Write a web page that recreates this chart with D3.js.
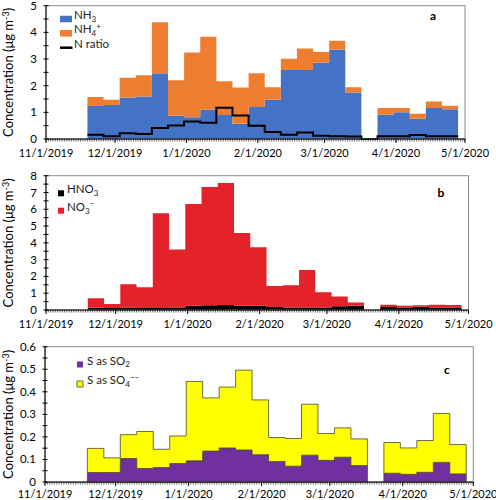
<!DOCTYPE html>
<html><head><meta charset="utf-8">
<script src="https://cdn.jsdelivr.net/npm/d3@7"></script>
<style>body{margin:0;background:#fff}svg{display:block}text{font-family:Lato,"Open Sans",sans-serif}</style>
</head><body><svg id="c" width="496" height="500"></svg>
<script>
// ---- data ----
const weeks = ["2019-11-19","2019-11-26","2019-12-03","2019-12-10","2019-12-17","2019-12-24","2019-12-31",
  "2020-01-07","2020-01-14","2020-01-21","2020-01-28","2020-02-04","2020-02-11","2020-02-18","2020-02-25",
  "2020-03-03","2020-03-10","2020-03-17","2020-03-24","2020-03-31","2020-04-07","2020-04-14","2020-04-21"];
const nh3  = [1.24,1.28,1.56,1.59,2.47,0.87,0.82,1.10,0.90,0.57,1.20,1.47,2.59,2.59,2.86,3.36,1.74,null,0.91,1.00,0.76,1.16,1.12];
const nh4  = [0.34,0.19,0.74,0.80,1.91,1.33,2.42,2.74,1.27,1.36,1.27,0.47,0.42,0.80,0.40,0.33,0.20,null,0.25,0.16,0.19,0.25,0.13];
const nRatio = [0.16,0.10,0.22,0.19,0.41,0.51,0.66,0.61,1.17,0.88,0.50,0.26,0.16,0.24,0.12,0.10,0.09,0,0.10,0.10,0.15,0.10,0.10];
const hno3 = [0.14,0.12,0.15,0.12,0.12,0.15,0.25,0.28,0.30,0.25,0.25,0.18,0.15,0.15,0.15,0.22,0.25,null,0.18,0.15,0.20,0.15,0.15];
const no3  = [0.56,0.24,1.38,1.23,5.65,3.45,6.06,7.04,7.26,4.33,3.49,1.25,1.32,2.24,0.90,0.58,0.19,null,0.14,0.11,0.08,0.17,0.15];
const so2  = [0.042,0.042,0.104,0.060,0.064,0.082,0.094,0.137,0.151,0.142,0.121,0.091,0.070,0.119,0.096,0.110,0.073,null,0.039,0.034,0.043,0.087,0.036];
const so4  = [0.107,0.065,0.106,0.164,0.081,0.122,0.352,0.236,0.270,0.354,0.243,0.106,0.123,0.226,0.119,0.130,0.118,null,0.136,0.117,0.141,0.217,0.130];
const dateDomain = ["2019-11-01","2020-05-01"];
const yTicksA = [0,1,2,3,4,5];
const yTicksB = [0,1,2,3,4,5,6,7,8];
const yTicksC = [0,0.1,0.2,0.3,0.4,0.5,0.6];

// ---- helpers ----
const parse = d3.utcParse("%Y-%m-%d");
const starts = weeks.map(parse);
const svg = d3.select("#c");
svg.append("rect").attr("width",496).attr("height",500).attr("fill","#fff");

function rich(sel, parts, fs, supShift){
  let pending = 0;
  const ss = supShift || 0.38;
  parts.forEach(p=>{
    let txt, size, shift = 0;
    if(typeof p === "string"){ txt = p; size = fs; }
    else if(p.sub){ txt = p.sub; size = fs*0.7; shift = fs*0.25; }
    else { txt = p.sup; size = fs*0.7; shift = -fs*ss; }
    sel.append("tspan").attr("font-size",size).attr("dy",pending+shift).text(txt);
    pending = -shift;
  });
}

function panel(cfg){
  const x = d3.scaleUtc().domain(dateDomain.map(parse)).range([cfg.x0,cfg.x1]);
  const y = d3.scaleLinear().domain([0,cfg.ymax]).range([cfg.yb,cfg.yt]);
  const g = svg.append("g");
  // stacks
  let base = weeks.map(()=>0);
  cfg.series.forEach(s=>{
    const pts = [];
    s.values.forEach((v,i)=>{
      const ok = v!==null;
      const b = base[i];
      const e = d3.utcDay.offset(starts[i],7);
      pts.push({ok, x:x(starts[i]), y0:b, y1:b+(v||0)});
      pts.push({ok, x:x(e), y0:b, y1:b+(v||0)});
      if(ok) base[i] = b+v;
    });
    const area = d3.area().defined(p=>p.ok).x(p=>p.x).y0(p=>y(p.y0)).y1(p=>y(p.y1));
    g.append("path").attr("d",area(pts)).attr("fill",s.color)
      .attr("stroke",cfg.outline||"none").attr("stroke-width",cfg.outline?0.8:0);
  });
  if(cfg.line){
    const pts=[];
    cfg.line.forEach((v,i)=>{ pts.push([x(starts[i]),y(v)]); pts.push([x(d3.utcDay.offset(starts[i],7)),y(v)]); });
    g.append("path").attr("d",d3.line()(pts)).attr("fill","none").attr("stroke","#000").attr("stroke-width",2);
  }
  // frame
  g.append("rect").attr("x",cfg.x0).attr("y",cfg.yt).attr("width",cfg.x1-cfg.x0).attr("height",cfg.yb-cfg.yt)
    .attr("fill","none").attr("stroke","#8c8c8c").attr("stroke-width",1);
  // y axis
  g.append("line").attr("x1",cfg.x0).attr("x2",cfg.x0).attr("y1",cfg.yt).attr("y2",cfg.yb).attr("stroke","#000");
  const step = cfg.yTicks[1]-cfg.yTicks[0];
  const minor = [];
  for(let k=0;k<cfg.yTicks.length*2-1;k++) minor.push(k*step/2);
  minor.forEach(v=>g.append("line").attr("x1",cfg.x0-2.5).attr("x2",cfg.x0+2.5).attr("y1",y(v)).attr("y2",y(v)).attr("stroke","#000"));
  cfg.yTicks.forEach(v=>g.append("text").attr("x",cfg.x0-9).attr("y",y(v)).attr("dy","0.35em")
    .attr("text-anchor","end").attr("font-size",11.5).attr("fill","#000").text(cfg.fmt(v)));
  // x axis
  g.append("line").attr("x1",cfg.x0).attr("x2",cfg.x1).attr("y1",cfg.yb).attr("y2",cfg.yb).attr("stroke","#000");
  const days = d3.utcDay.range(x.domain()[0], d3.utcDay.offset(x.domain()[1],1));
  days.forEach(d=>g.append("line").attr("x1",x(d)).attr("x2",x(d)).attr("y1",cfg.yb).attr("y2",cfg.yb+2.5)
    .attr("stroke","#000").attr("stroke-width",0.6));
  const months = d3.utcMonth.range(x.domain()[0], d3.utcDay.offset(x.domain()[1],1));
  const mf = d3.utcFormat("%-m/%-d/%Y");
  months.forEach(d=>{
    g.append("line").attr("x1",x(d)).attr("x2",x(d)).attr("y1",cfg.yb).attr("y2",cfg.yb+4).attr("stroke","#000");
    g.append("text").attr("x",x(d)).attr("y",cfg.yb+cfg.lab).attr("dy","0.35em").attr("text-anchor","middle")
      .attr("font-size",11).attr("fill","#000").text(mf(d));
  });
  // y title
  const t = g.append("text").attr("transform",`translate(13,${(cfg.yt+cfg.yb)/2}) rotate(-90)`)
    .attr("text-anchor","middle").attr("dy","0.35em").attr("fill","#000");
  rich(t,["Concentration (\u03bcg m",{sup:"-3"},")"],13,0.3);
  // panel letter
  g.append("text").attr("x",cfg.letter[0]).attr("y",cfg.letter[1]).attr("dy","0.35em").attr("text-anchor","middle")
    .attr("font-size",12).attr("font-weight","bold").text(cfg.letter[2]);
  // legend
  cfg.legend.forEach(L=>{
    if(L.type==="rect") g.append("rect").attr("x",L.x).attr("y",L.y-L.h/2).attr("width",L.w).attr("height",L.h)
      .attr("fill",L.color).attr("stroke",L.stroke||"none").attr("stroke-width",0.8);
    else g.append("line").attr("x1",L.x).attr("x2",L.x+L.w).attr("y1",L.y).attr("y2",L.y).attr("stroke","#000").attr("stroke-width",2.5);
    const tt = g.append("text").attr("x",L.tx).attr("y",L.y).attr("dy","0.35em").attr("fill","#222");
    rich(tt,L.text,11.5);
  });
}

panel({x0:46,x1:465,yt:5.7,yb:139,ymax:5,yTicks:yTicksA,fmt:d=>String(d),lab:14,
  series:[{values:nh3,color:"#4472C4"},{values:nh4,color:"#ED7D31"}],line:nRatio,
  letter:[433,16,"a"],
  legend:[{type:"rect",x:60,y:19,w:12,h:6.5,color:"#4472C4",tx:74,text:["NH",{sub:"3"}]},
          {type:"rect",x:60,y:33.3,w:12,h:6.5,color:"#ED7D31",tx:74,text:["NH",{sub:"4"},{sup:"+"}]},
          {type:"line",x:60,y:47.7,w:12.5,tx:74,text:["N ratio"]}]});

panel({x0:46,x1:468.5,yt:175.7,yb:310,ymax:8,yTicks:yTicksB,fmt:d=>String(d),lab:14,
  series:[{values:hno3,color:"#000"},{values:no3,color:"#E3222A"}],
  letter:[441,193,"b"],
  legend:[{type:"rect",x:58,y:193.3,w:6,h:6,color:"#000",tx:67,text:["HNO",{sub:"3"}]},
          {type:"rect",x:58,y:210.7,w:6,h:6,color:"#E3222A",tx:67,text:["NO",{sub:"3"},{sup:"\u2212"}]}]});

panel({x0:45,x1:473.3,yt:346.7,yb:482,ymax:0.6,yTicks:yTicksC,fmt:d=>d===0?"0":d.toFixed(1),lab:12.5,
  series:[{values:so2,color:"#7030A0"},{values:so4,color:"#FFFF00"}],outline:"#4a4a2a",
  letter:[447,370,"c"],
  legend:[{type:"rect",x:77,y:364.5,w:6,h:6,color:"#7030A0",tx:87,text:["S as SO",{sub:"2"}]},
          {type:"rect",x:77,y:384,w:6,h:6,color:"#FFFF00",stroke:"#4a4a2a",tx:87,text:["S as SO",{sub:"4"},{sup:"\u2212\u2212"}]}]});
</script></body></html>
